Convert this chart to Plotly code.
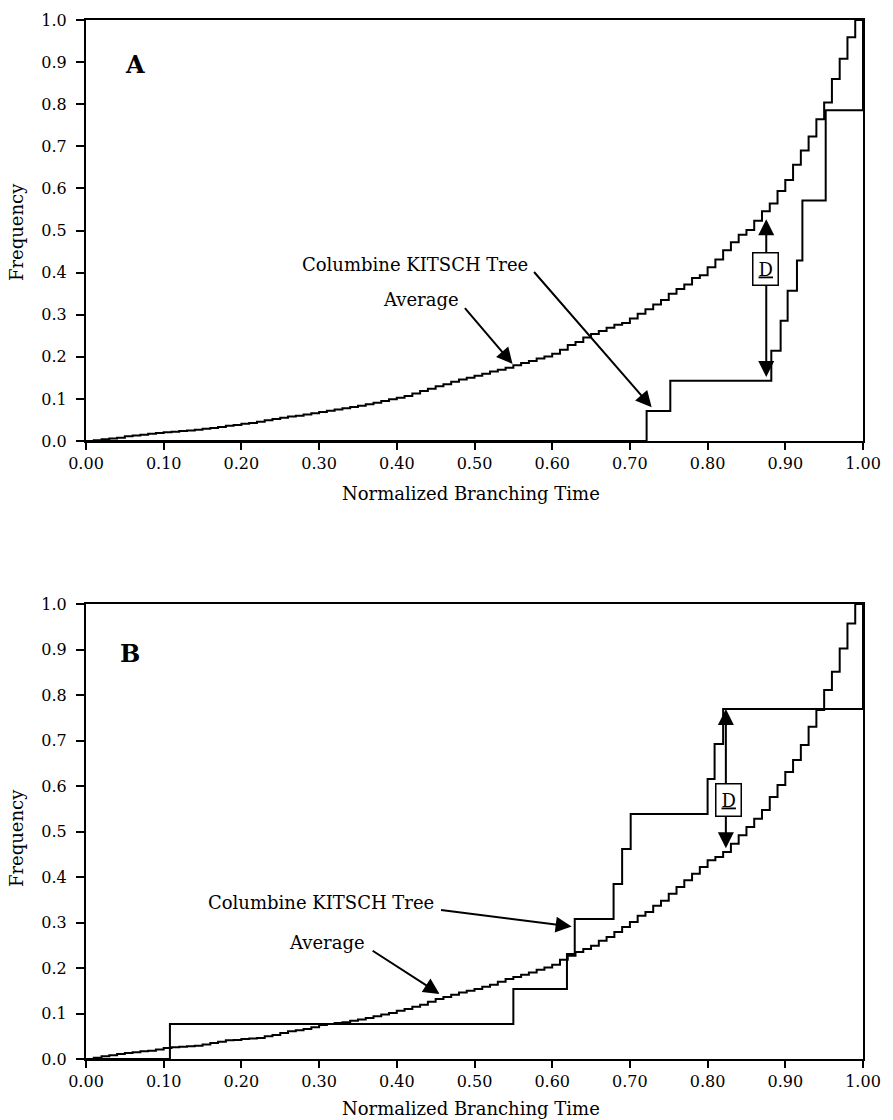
import plotly.graph_objects as go

# ---------------- data ----------------
STEP_X = [0.00, 0.01, 0.02, 0.03, 0.04, 0.05, 0.06, 0.07, 0.08, 0.09,
          0.10, 0.11, 0.12, 0.13, 0.14, 0.15, 0.16, 0.17, 0.18, 0.19,
          0.20, 0.21, 0.22, 0.23, 0.24, 0.25, 0.26, 0.27, 0.28, 0.29,
          0.30, 0.31, 0.32, 0.33, 0.34, 0.35, 0.36, 0.37, 0.38, 0.39,
          0.40, 0.41, 0.42, 0.43, 0.44, 0.45, 0.46, 0.47, 0.48, 0.49,
          0.50, 0.51, 0.52, 0.53, 0.54, 0.55, 0.56, 0.57, 0.58, 0.59,
          0.60, 0.61, 0.62, 0.63, 0.64, 0.65, 0.66, 0.67, 0.68, 0.69,
          0.70, 0.71, 0.72, 0.73, 0.74, 0.75, 0.76, 0.77, 0.78, 0.79,
          0.80, 0.81, 0.82, 0.83, 0.84, 0.85, 0.86, 0.87, 0.88, 0.89,
          0.90, 0.91, 0.92, 0.93, 0.94, 0.95, 0.96, 0.97, 0.98, 0.99, 1.00]

avg_a = [0.000, 0.002, 0.004, 0.006, 0.008, 0.011, 0.013, 0.015, 0.017, 0.019,
         0.021, 0.022, 0.024, 0.025, 0.027, 0.029, 0.031, 0.033, 0.036, 0.038,
         0.041, 0.043, 0.046, 0.049, 0.052, 0.055, 0.058, 0.060, 0.063, 0.066,
         0.069, 0.072, 0.075, 0.078, 0.081, 0.084, 0.087, 0.091, 0.095, 0.099,
         0.103, 0.107, 0.113, 0.119, 0.124, 0.130, 0.135, 0.141, 0.146, 0.150,
         0.155, 0.160, 0.165, 0.169, 0.174, 0.180, 0.185, 0.190, 0.196, 0.201,
         0.207, 0.217, 0.228, 0.235, 0.246, 0.254, 0.261, 0.269, 0.276, 0.280,
         0.291, 0.302, 0.313, 0.324, 0.335, 0.350, 0.361, 0.372, 0.387, 0.394,
         0.413, 0.431, 0.453, 0.472, 0.490, 0.501, 0.523, 0.546, 0.564, 0.594,
         0.620, 0.656, 0.690, 0.723, 0.764, 0.804, 0.860, 0.908, 0.959, 1.000, 1.000]

avg_b = [0.000, 0.003, 0.006, 0.008, 0.011, 0.013, 0.015, 0.017, 0.018, 0.021,
         0.024, 0.026, 0.027, 0.028, 0.029, 0.032, 0.035, 0.038, 0.041, 0.042,
         0.044, 0.045, 0.046, 0.050, 0.053, 0.057, 0.061, 0.063, 0.066, 0.070,
         0.075, 0.077, 0.079, 0.081, 0.084, 0.087, 0.090, 0.094, 0.098, 0.101,
         0.106, 0.110, 0.115, 0.119, 0.126, 0.132, 0.136, 0.141, 0.146, 0.150,
         0.154, 0.159, 0.163, 0.170, 0.176, 0.180, 0.185, 0.190, 0.196, 0.201,
         0.207, 0.218, 0.227, 0.235, 0.242, 0.249, 0.260, 0.268, 0.279, 0.290,
         0.301, 0.315, 0.323, 0.337, 0.348, 0.363, 0.378, 0.393, 0.407, 0.422,
         0.437, 0.444, 0.455, 0.473, 0.492, 0.510, 0.528, 0.547, 0.576, 0.602,
         0.631, 0.657, 0.690, 0.730, 0.767, 0.811, 0.851, 0.902, 0.957, 1.000, 1.000]

# Columbine KITSCH tree (cumulative node counts / total nodes)
col_a_x = [0.0, 0.7215, 0.752, 0.882, 0.894, 0.903, 0.915, 0.922, 0.952, 1.0]
col_a_n = [0, 1, 2, 3, 4, 5, 6, 8, 11, 14]
col_a_total = 14

col_b_x = [0.0, 0.108, 0.550, 0.619, 0.629, 0.679, 0.690, 0.701, 0.800, 0.809, 0.820, 1.0]
col_b_n = [0, 1, 2, 3, 4, 5, 6, 7, 8, 9, 10, 13]
col_b_total = 13

x_tickvals = [0.0, 0.1, 0.2, 0.3, 0.4, 0.5, 0.6, 0.7, 0.8, 0.9, 1.0]
x_ticktext = ["0.00", "0.10", "0.20", "0.30", "0.40", "0.50", "0.60", "0.70", "0.80", "0.90", "1.00"]
y_tickvals = [0.0, 0.1, 0.2, 0.3, 0.4, 0.5, 0.6, 0.7, 0.8, 0.9, 1.0]
y_ticktext = ["0.0", "0.1", "0.2", "0.3", "0.4", "0.5", "0.6", "0.7", "0.8", "0.9", "1.0"]

# ---------------- figure ----------------
FONT = "DejaVu Serif"
BLACK = "#000000"

fig = go.Figure()

line_style = dict(color=BLACK, width=2, shape="hv")

fig.add_trace(go.Scatter(x=STEP_X, y=avg_a, mode="lines", line=line_style,
                         xaxis="x", yaxis="y", cliponaxis=False, showlegend=False))
fig.add_trace(go.Scatter(x=col_a_x, y=[n / col_a_total for n in col_a_n], mode="lines",
                         line=line_style, xaxis="x", yaxis="y", cliponaxis=False, showlegend=False))
fig.add_trace(go.Scatter(x=STEP_X, y=avg_b, mode="lines", line=line_style,
                         xaxis="x2", yaxis="y2", cliponaxis=False, showlegend=False))
fig.add_trace(go.Scatter(x=col_b_x, y=[n / col_b_total for n in col_b_n], mode="lines",
                         line=line_style, xaxis="x2", yaxis="y2", cliponaxis=False, showlegend=False))

def xaxis_style(domain, anchor):
    return dict(domain=domain, anchor=anchor, range=[0, 1], tickvals=x_tickvals, ticktext=x_ticktext,
                ticks="outside", ticklen=7, tickwidth=2, tickcolor=BLACK,
                showline=True, linewidth=2, linecolor=BLACK, mirror=True, automargin=False,
                showgrid=False, zeroline=False, fixedrange=True, ticklabeloverflow="allow",
                tickfont=dict(family=FONT, size=16, color=BLACK))

def yaxis_style(domain, anchor):
    return dict(domain=domain, anchor=anchor, range=[0, 1], tickvals=y_tickvals, ticktext=y_ticktext,
                ticks="outside", ticklen=8, tickwidth=2, tickcolor=BLACK,
                showline=True, linewidth=2, linecolor=BLACK, mirror=True, automargin=False,
                showgrid=False, zeroline=False, fixedrange=True, ticklabelstandoff=6,
                ticklabeloverflow="allow",
                tickfont=dict(family=FONT, size=16, color=BLACK))

XDOM = [86 / 893, 863 / 893]
fig.update_layout(
    width=893, height=1120,
    margin=dict(l=0, r=0, t=0, b=0, autoexpand=False),
    paper_bgcolor="white", plot_bgcolor="white",
    xaxis=xaxis_style(XDOM, "y"),
    yaxis=yaxis_style([1 - 441 / 1120, 1 - 20 / 1120], "x"),
    xaxis2=xaxis_style(XDOM, "y2"),
    yaxis2=yaxis_style([1 - 1059 / 1120, 1 - 604 / 1120], "x2"),
)

ann = []
tf = dict(family=FONT, size=18, color=BLACK)

# axis titles
for yc in [1 - 232 / 1120, 1 - 838 / 1120]:
    ann.append(dict(text="Frequency", x=16 / 893, y=yc, xref="paper", yref="paper",
                    showarrow=False, textangle=-90, font=tf, xanchor="center", yanchor="middle"))
for yc in [1 - 493 / 1120, 1 - 1108 / 1120]:
    ann.append(dict(text="Normalized Branching Time", x=471 / 893, y=yc, xref="paper", yref="paper",
                    showarrow=False, font=tf, xanchor="center", yanchor="middle"))

# panel letters
ann.append(dict(text="<b>A</b>", x=0.063, y=0.895, xref="x", yref="y", showarrow=False,
                font=dict(family=FONT, size=24, color=BLACK)))
ann.append(dict(text="<b>B</b>", x=0.057, y=0.892, xref="x2", yref="y2", showarrow=False,
                font=dict(family=FONT, size=24, color=BLACK)))

def arrow(xr, yr, tail, tip):
    return dict(text="", x=tip[0], y=tip[1], ax=tail[0], ay=tail[1], xref=xr, yref=yr,
                axref=xr, ayref=yr, showarrow=True, arrowhead=2, arrowsize=1.6,
                arrowwidth=2, arrowcolor=BLACK, standoff=0, startstandoff=0)

# Panel A labels
ann.append(dict(text="Columbine KITSCH Tree", x=0.571, y=0.42, xref="x", yref="y",
                xanchor="right", yanchor="middle", showarrow=False, font=tf))
ann.append(arrow("x", "y", (0.575, 0.405), (0.728, 0.08)))
ann.append(dict(text="Average", x=0.482, y=0.335, xref="x", yref="y",
                xanchor="right", yanchor="middle", showarrow=False, font=tf))
ann.append(arrow("x", "y", (0.486, 0.319), (0.549, 0.183)))
ann.append(arrow("x", "y", (0.8755, 0.44), (0.8755, 0.527)))
ann.append(arrow("x", "y", (0.8755, 0.376), (0.8755, 0.152)))
ann.append(dict(text="<u>D</u>", x=0.8745, y=0.408, xref="x", yref="y", showarrow=False,
                font=tf, bordercolor=BLACK, borderwidth=1.5, borderpad=5, bgcolor="white"))

# Panel B labels
ann.append(dict(text="Columbine KITSCH Tree", x=0.451, y=0.343, xref="x2", yref="y2",
                xanchor="right", yanchor="middle", showarrow=False, font=tf))
ann.append(arrow("x2", "y2", (0.455, 0.328), (0.625, 0.291)))
ann.append(dict(text="Average", x=0.362, y=0.255, xref="x2", yref="y2",
                xanchor="right", yanchor="middle", showarrow=False, font=tf))
ann.append(arrow("x2", "y2", (0.367, 0.240), (0.455, 0.143)))
ann.append(arrow("x2", "y2", (0.8235, 0.602), (0.8235, 0.769)))
ann.append(arrow("x2", "y2", (0.8235, 0.536), (0.8235, 0.463)))
ann.append(dict(text="<u>D</u>", x=0.8265, y=0.569, xref="x2", yref="y2", showarrow=False,
                font=tf, bordercolor=BLACK, borderwidth=1.5, borderpad=5, bgcolor="white"))

fig.update_layout(annotations=ann)

fig.write_html("out.html")
